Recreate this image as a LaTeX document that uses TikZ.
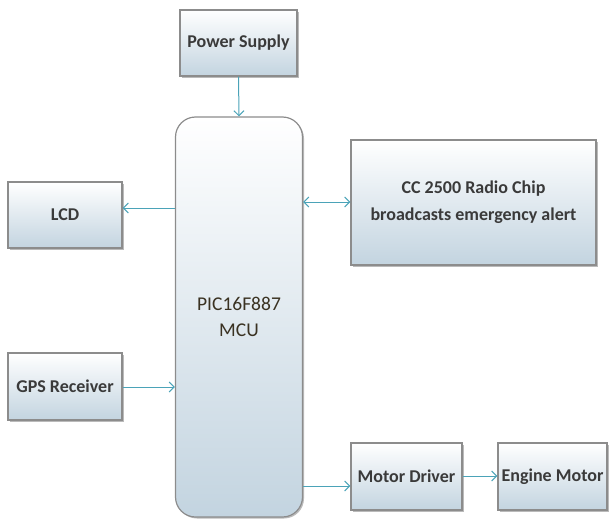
\documentclass[tikz,border=0pt]{standalone}
\usepackage{fontspec}
\setmainfont{Carlito}
\usetikzlibrary{arrows.meta,shadows,calc}
\definecolor{txt}{HTML}{3A3A3A}
\definecolor{mcutxt}{HTML}{3A3222}
\definecolor{bord}{HTML}{8C8C8C}
\definecolor{fillbot}{HTML}{C3D4E0}
\definecolor{arr}{HTML}{4BA3B8}
\tikzset{
  blk/.style={draw=bord, line width=1.2pt, top color=white, bottom color=fillbot,
    drop shadow={shadow xshift=1.5pt, shadow yshift=-1.5pt, fill=black!45, opacity=0.6},
    text=txt, font=\fontsize{18}{22}\selectfont\bfseries, align=center, inner sep=0pt},
  conn/.style={draw=arr, line width=1pt, -{Straight Barb[length=5pt,width=10pt]}},
}
\begin{document}
\begin{tikzpicture}[x=1pt,y=-1pt]
\useasboundingbox (0,0) rectangle (610,522);
\node[blk, minimum width=117pt, minimum height=66pt] (ps) at (238.5,43) {Power Supply};
\node[blk, rounded corners=20pt, minimum width=127pt, minimum height=400pt, text=mcutxt, font=\fontsize{19.5}{26}\selectfont] (mcu) at (239,317) {PIC16F887\\MCU};
\node[blk, minimum width=114pt, minimum height=66pt] (lcd) at (65,215) {LCD};
\node[blk, minimum width=245pt, minimum height=125pt, font=\fontsize{18}{27}\selectfont\bfseries] (cc) at (473.5,202.5) {CC 2500 Radio Chip\\broadcasts emergency alert};
\node[blk, minimum width=114pt, minimum height=67pt] (gps) at (65,386.5) {GPS Receiver};
\node[blk, minimum width=111pt, minimum height=67pt] (md) at (406.5,476.5) {Motor Driver};
\node[blk, minimum width=109pt, minimum height=67pt] (em) at (552.5,476.5) {Engine Motor};
\draw[conn] (ps.south) -- (mcu.north);
\draw[conn] (mcu.west |- 0,208) -- (lcd.east |- 0,208);
\draw[conn, {Straight Barb[length=5pt,width=10pt]}-{Straight Barb[length=5pt,width=10pt]}] (mcu.east |- 0,202) -- (cc.west |- 0,202);
\draw[conn] (gps.east |- 0,387) -- (mcu.west |- 0,387);
\draw[conn] (mcu.east |- 0,486) -- (md.west |- 0,486);
\draw[conn] (md.east |- 0,476) -- (em.west |- 0,476);
\end{tikzpicture}
\end{document}
